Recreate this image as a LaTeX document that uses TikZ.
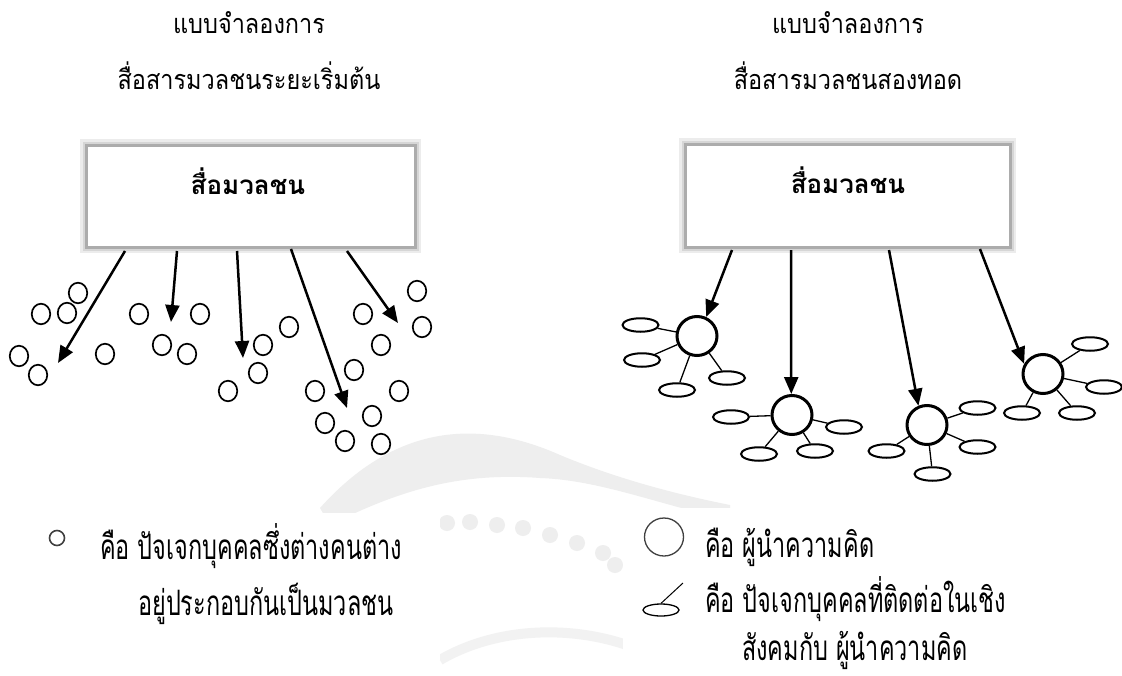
\documentclass[tikz,border=0pt]{standalone}
\usepackage{fontspec}
\newfontfamily\thaititle[Script=Thai,FakeStretch=0.87]{Loma}
\newfontfamily\thaibox[Script=Thai]{Loma}
\newfontfamily\thainarrow[Script=Thai,FakeStretch=0.67]{Loma}
\usetikzlibrary{arrows.meta,shapes.geometric}
\begin{document}
\begin{tikzpicture}[x=1pt,y=-1pt,
  title/.style={font=\thaititle\fontsize{27}{31}\selectfont, anchor=base, inner sep=0pt},
  boxtext/.style={font=\thaibox\bfseries\fontsize{26}{30}\selectfont, anchor=base, inner sep=0pt},
  legtext/.style={font=\thainarrow\fontsize{35}{39}\selectfont, anchor=base west, inner sep=0pt},
  person/.style={ellipse, draw, line width=1.7pt, minimum width=18.5pt, minimum height=20.5pt, inner sep=0pt},
  leader/.style={ellipse, draw, line width=3pt, minimum width=40pt, minimum height=39pt, inner sep=0pt},
  member/.style={ellipse, draw, line width=2pt, minimum width=36pt, minimum height=13.5pt, inner sep=0pt},
  tie/.style={line width=1.3pt},
  flow/.style={line width=2.5pt, -{Triangle[length=17pt,width=14pt]}},
  mediabox/.style={draw=gray!65, line width=3pt, fill=white, inner sep=0pt},
  shade1/.style={draw=gray!15, line width=8pt},
  shade2/.style={draw=gray!32, line width=5pt},
  wm/.style={fill=gray!13, draw=none},
]
\useasboundingbox (0,0) rectangle (1122,675);
\fill[white] (0,0) rectangle (1122,675);

% ---------- faint watermark ----------
\fill[wm] (320,508) .. controls (390,430) and (470,415) .. (560,455)
          .. controls (620,480) and (680,495) .. (730,505)
          -- (730,520) .. controls (660,505) and (600,480) .. (540,478)
          .. controls (460,472) and (400,490) .. (330,525) -- cycle;
\foreach \p in {(447,523),(470,522),(497,525),(523,528),(550,535),(577,543),(603,553),(615,565)}
  \fill[gray!13] \p circle (8);
\draw[gray!10, line width=10pt] (440,660) .. controls (500,625) and (580,625) .. (640,650);
\fill[white] (0,513) rectangle (440,660);
\fill[white] (623,508) rectangle (1122,675);

% ---------- titles ----------
\node[title] (tl1) at (249,33) {แบบจำลองการ};
\node[title] (tl2) at (249,89) {สื่อสารมวลชนระยะเริ่มต้น};
\node[title] (tr1) at (848,33) {แบบจำลองการ};
\node[title] (tr2) at (848,89) {สื่อสารมวลชนสองทอด};

% ---------- media boxes ----------
\draw[shade1] (84,143) rectangle (417,249);
\draw[shade2] (85,144) rectangle (416,248);
\node[mediabox, minimum width=329pt, minimum height=102pt] (mediaL) at (250.5,196) {};
\node[boxtext] (mediaLt) at (248,194) {สื่อมวลชน};

\draw[shade1] (683,142) rectangle (1012,249);
\draw[shade2] (684,143) rectangle (1011,248);
\node[mediabox, minimum width=325pt, minimum height=103pt] (mediaR) at (847.5,195.5) {};
\node[boxtext] (mediaRt) at (848,193) {สื่อมวลชน};

% ---------- left: mass individuals ----------
\foreach \n/\x/\y in {1/78/293, 2/41/314, 3/67/313, 4/19/356, 5/38/375, 6/105/354,
  7/139/314, 8/200/314, 9/162/345, 10/187/354, 11/289/327, 12/263/345, 13/258/373,
  14/228/391, 15/363/314, 16/417/291, 17/422/327, 18/381/345, 19/354/370, 20/315/391,
  21/399/391, 22/372/416, 23/325/423, 24/345/441, 25/381/444}
  \node[person] (p\n) at (\x,\y) {};

\coordinate (l1s) at (125,251); \coordinate (l1e) at (58,363);
\coordinate (l2s) at (177,251); \coordinate (l2e) at (171,322);
\coordinate (l3s) at (237,251); \coordinate (l3e) at (243,358);
\coordinate (l4s) at (291,249); \coordinate (l4e) at (347,408);
\coordinate (l5s) at (347,251); \coordinate (l5e) at (398,323);
\foreach \i in {1,...,5} \draw[flow] (l\i s) -- (l\i e);

% ---------- right: two-step flow ----------
\node[leader] (L1) at (697,336) {};
\node[leader] (L2) at (792,415) {};
\node[leader] (L3) at (927,425) {};
\node[leader] (L4) at (1043,374) {};

\foreach \k/\x/\y in {a/640.5/325, b/642/360, c/677/390, d/727/378}
  {\node[member] (m1\k) at (\x,\y) {}; \draw[tie] (L1) -- (m1\k);}
\foreach \k/\x/\y in {a/731/417, b/844/427, c/759/454, d/815/451}
  {\node[member] (m2\k) at (\x,\y) {}; \draw[tie] (L2) -- (m2\k);}
\foreach \k/\x/\y in {a/977.5/408, b/977.5/447, c/886.5/451, d/932.5/474}
  {\node[member] (m3\k) at (\x,\y) {}; \draw[tie] (L3) -- (m3\k);}
\foreach \k/\x/\y in {a/1090/344, b/1104/387, c/1022/413, d/1077/413}
  {\node[member] (m4\k) at (\x,\y) {}; \draw[tie] (L4) -- (m4\k);}

\coordinate (r1s) at (732,250);
\coordinate (r2s) at (791,250);
\coordinate (r3s) at (889,250);
\coordinate (r4s) at (980,249);
\draw[flow] (r1s) -- (L1.64);
\draw[flow] (r2s) -- (L2.92);
\draw[flow] (r3s) -- (L3.114);
\draw[flow] (r4s) -- (L4.152);

% ---------- legends ----------
\node[ellipse, draw=black!75, line width=1.6pt, minimum width=15pt, minimum height=15pt, inner sep=0pt] (legp) at (57,538) {};
\node[legtext] (leg1a) at (100,559) {คือ ปัจเจกบุคคลซึ่งต่างคนต่าง};
\node[legtext] (leg1b) at (138,615) {อยู่ประกอบกันเป็นมวลชน};

\node[ellipse, draw=black!75, line width=1.3pt, minimum width=39pt, minimum height=38pt, inner sep=0pt] (legL) at (664,537) {};
\node[legtext] (leg2a) at (705,557) {คือ ผู้นำความคิด};
\node[ellipse, draw, line width=1.3pt, minimum width=36pt, minimum height=12pt, inner sep=0pt] (legm) at (661,610) {};
\coordinate (legtip) at (683,583);
\draw[line width=1pt] (legm.north) -- (legtip);
\node[legtext] (leg2b) at (705,612) {คือ ปัจเจกบุคคลที่ติดต่อในเชิง};
\node[legtext] (leg2c) at (742,660) {สังคมกับ ผู้นำความคิด};
\end{tikzpicture}
\end{document}
